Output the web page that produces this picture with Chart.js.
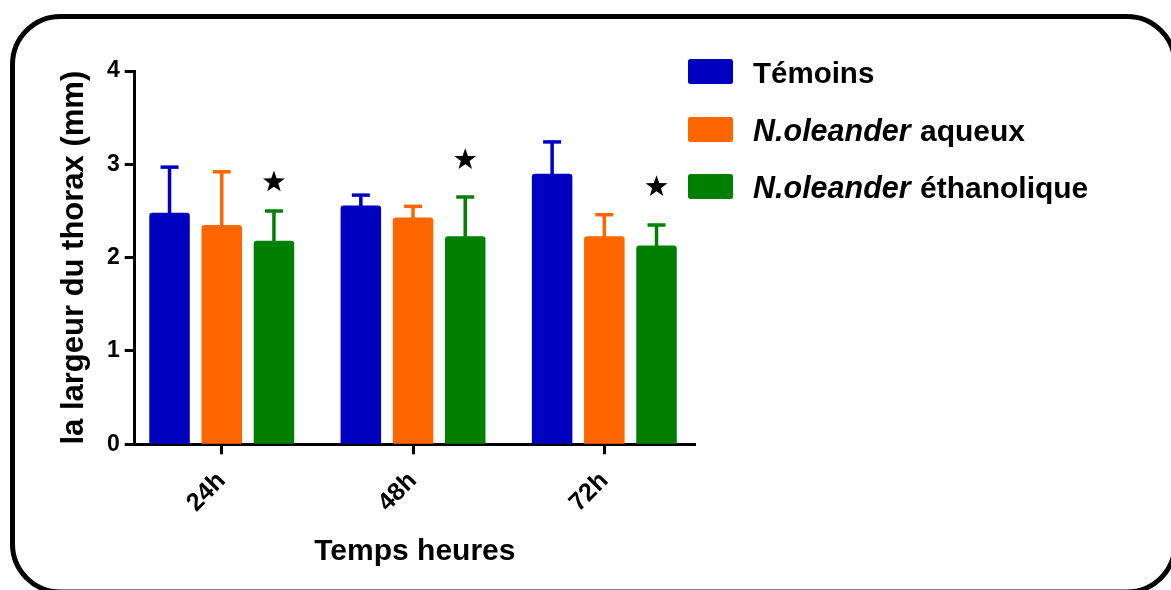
<!DOCTYPE html>
<html>
<head>
<meta charset="utf-8">
<script src="https://cdn.jsdelivr.net/npm/chart.js@4"></script>
<style>
  html, body { margin: 0; padding: 0; background: #ffffff; }
  #wrap { position: relative; width: 1171px; height: 590px; }
</style>
</head>
<body>
<div id="wrap"><canvas id="c" width="1171" height="590"></canvas></div>
<script>
// ---- data ----
const categories = ['24h', '48h', '72h'];
const seriesNames = ['Témoins', 'N.oleander aqueux', 'N.oleander éthanolique'];
const temoinsMean = [2.48, 2.56, 2.90];
const temoinsErr  = [0.49, 0.11, 0.34];
const aqueuxMean  = [2.35, 2.43, 2.23];
const aqueuxErr   = [0.57, 0.12, 0.23];
const ethanolMean = [2.18, 2.23, 2.13];
const ethanolErr  = [0.32, 0.42, 0.22];
const starLevels  = [2.81, 3.05, 2.76];   // significance stars above ethanolic bars
const yTicks = [0, 1, 2, 3, 4];

const colors = ['#0000C0', '#FF6600', '#008000'];
const FONT = "'Liberation Sans', Arial, Helvetica, sans-serif";

const means = [temoinsMean, aqueuxMean, ethanolMean];
const errs = [temoinsErr, aqueuxErr, ethanolErr];

const datasets = means.map((m, i) => ({
  label: seriesNames[i],
  data: m.map((v, k) => ({ x: k + 1, y: v })),
  backgroundColor: colors[i],
  borderWidth: 0,
  borderRadius: { topLeft: 3, topRight: 3, bottomLeft: 0, bottomRight: 0 },
  borderSkipped: false,
  barPercentage: 0.776,
  categoryPercentage: 0.8186,
  errPlus: errs[i]
}));

// rounded frame
const framePlugin = {
  id: 'frame',
  beforeDraw(chart) {
    const ctx = chart.ctx;
    ctx.save();
    ctx.fillStyle = '#ffffff';
    ctx.fillRect(0, 0, chart.width, chart.height);
    ctx.beginPath();
    ctx.lineWidth = 5;
    ctx.strokeStyle = '#000000';
    if (ctx.roundRect) ctx.roundRect(12.5, 16.5, 1162.5, 575.5, 48);
    else ctx.rect(12.5, 16.5, 1162.5, 575.5);
    ctx.stroke();
    ctx.restore();
  }
};

// error bars (upper only) + stars
const errorPlugin = {
  id: 'errbars',
  afterDatasetsDraw(chart) {
    const ctx = chart.ctx;
    const ys = chart.scales.y;
    ctx.save();
    chart.data.datasets.forEach((ds, di) => {
      const meta = chart.getDatasetMeta(di);
      meta.data.forEach((bar, k) => {
        const top = ys.getPixelForValue(ds.data[k].y + ds.errPlus[k]);
        const base = ys.getPixelForValue(ds.data[k].y);
        ctx.strokeStyle = ds.backgroundColor;
        ctx.lineWidth = 3.5;
        ctx.lineCap = 'butt';
        ctx.beginPath();
        ctx.moveTo(bar.x, base + 1);
        ctx.lineTo(bar.x, top);
        ctx.stroke();
        ctx.beginPath();
        ctx.moveTo(bar.x - 9, top);
        ctx.lineTo(bar.x + 9, top);
        ctx.stroke();
      });
    });
    // stars over last dataset
    const lastMeta = chart.getDatasetMeta(chart.data.datasets.length - 1);
    ctx.fillStyle = '#000000';
    lastMeta.data.forEach((bar, k) => {
      const cx = bar.x;
      const cy = ys.getPixelForValue(starLevels[k]);
      const R = 11.5, r = 4.6;
      ctx.beginPath();
      for (let p = 0; p < 10; p++) {
        const ang = -Math.PI / 2 + p * Math.PI / 5;
        const rad = p % 2 === 0 ? R : r;
        const px = cx + rad * Math.cos(ang);
        const py = cy + rad * Math.sin(ang);
        if (p === 0) ctx.moveTo(px, py); else ctx.lineTo(px, py);
      }
      ctx.closePath();
      ctx.fill();
    });
    ctx.restore();
  }
};

// custom legend with italic species name
const legendPlugin = {
  id: 'customLegend',
  afterDraw(chart) {
    const ctx = chart.ctx;
    const x0 = chart.chartArea.right - 7;
    const rowY = [71.5, 129.5, 186.5];
    ctx.save();
    chart.data.datasets.forEach((ds, i) => {
      const cy = rowY[i];
      ctx.fillStyle = ds.backgroundColor;
      ctx.beginPath();
      if (ctx.roundRect) ctx.roundRect(x0, cy - 12.5, 45, 25, 2.5); else ctx.rect(x0, cy - 12.5, 45, 25);
      ctx.fill();
      ctx.fillStyle = '#000000';
      ctx.textBaseline = 'alphabetic';
      ctx.textAlign = 'left';
      let tx = x0 + 65;
      const label = ds.label;
      const sp = label.indexOf(' ');
      if (label.startsWith('N.') && sp > 0) {
        const ital = label.slice(0, sp);
        const rest = label.slice(sp);
        ctx.font = 'italic bold 30.5px ' + FONT;
        ctx.fillText(ital, tx, cy + 11);
        tx += ctx.measureText(ital).width + 1;
        ctx.font = 'bold 30px ' + FONT;
        ctx.fillText(rest, tx, cy + 11);
      } else {
        ctx.font = 'bold 29.5px ' + FONT;
        ctx.fillText(label, tx, cy + 11);
      }
    });
    ctx.restore();
  }
};

const chart = new Chart(document.getElementById('c'), {
  type: 'bar',
  data: { datasets },
  options: {
    responsive: false,
    animation: false,
    events: [],
    layout: { padding: { top: 71, right: 476, bottom: 0, left: 0 } },
    plugins: { legend: { display: false }, tooltip: { enabled: false } },
    scales: {
      x: {
        type: 'linear',
        offset: false,
        min: 0.545,
        max: 3.474,
        afterBuildTicks(scale) { scale.ticks = categories.map((c, i) => ({ value: i + 1 })); },
        afterFit(scale) { scale.height = 145.7; },
        ticks: {
          callback: (v) => categories[v - 1],
          minRotation: 45,
          maxRotation: 45,
          autoSkip: false,
          padding: 12,
          color: '#000000',
          font: { family: FONT, size: 25, weight: 'bold' }
        },
        grid: { display: true, offset: false, drawOnChartArea: false, drawTicks: true, tickLength: 10, tickWidth: 3, tickColor: '#000000' },
        border: { display: true, color: '#000000', width: 3 },
        title: {
          display: true,
          text: 'Temps heures',
          color: '#000000',
          font: { family: FONT, size: 30, weight: 'bold' },
          padding: { top: 0, bottom: 20 }
        }
      },
      y: {
        min: 0,
        max: 4,
        afterBuildTicks(scale) { scale.ticks = yTicks.map(v => ({ value: v })); },
        afterFit(scale) { scale.width = 134.7; },
        ticks: {
          padding: 5,
          color: '#000000',
          font: { family: FONT, size: 23, weight: 'bold' }
        },
        grid: { display: true, drawOnChartArea: false, drawTicks: true, tickLength: 10, tickWidth: 3, tickColor: '#000000' },
        border: { display: true, color: '#000000', width: 3 },
        title: {
          display: true,
          text: 'la largeur du thorax (mm)',
          color: '#000000',
          font: { family: FONT, size: 31, weight: 'bold' },
          padding: { top: 56, bottom: 0 }
        }
      }
    }
  },
  plugins: [framePlugin, errorPlugin, legendPlugin]
});
</script>
</body>
</html>
